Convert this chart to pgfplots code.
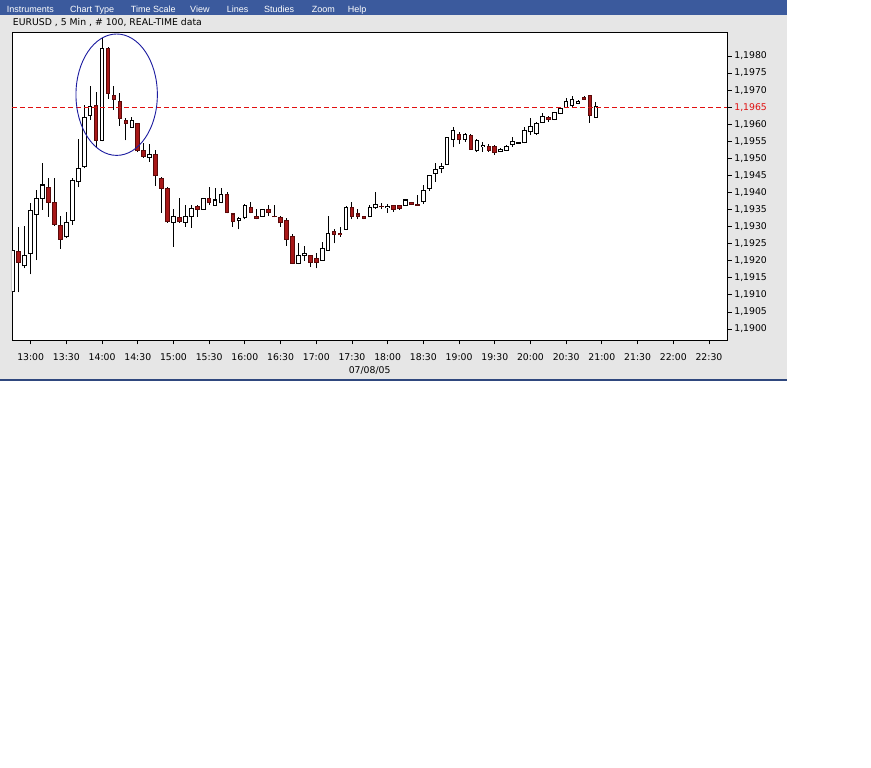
\documentclass[border=0pt]{standalone}
\usepackage{fontspec}
\setmainfont{DejaVu Sans}
\newfontfamily\menufont{Liberation Sans}
\usepackage{pgfplots}
\pgfplotsset{compat=1.18}
\usepackage{pgfplotstable}

\definecolor{menublue}{HTML}{3B5A9D}
\definecolor{panelgray}{HTML}{E6E6E6}
\definecolor{candlered}{HTML}{A81818}
\definecolor{candleedge}{HTML}{5A0A0A}
\definecolor{pricered}{RGB}{224,16,16}
\definecolor{circleblue}{HTML}{1C1CA0}

% EURUSD 5 min candles, t = number of 5-min bars after 13:00
% white (rising) candles
\pgfplotstableread{
t o h l c
-3 1.19109 1.19241 1.18982 1.19231
-1 1.19185 1.19302 1.19178 1.19214
0 1.19222 1.19368 1.19160 1.19348
1 1.19336 1.19407 1.19202 1.19383
2 1.19383 1.19487 1.19349 1.19422
6 1.19270 1.19344 1.19266 1.19313
7 1.19319 1.19443 1.19305 1.19434
8 1.19432 1.19557 1.19415 1.19471
9 1.19476 1.19656 1.19471 1.19620
10 1.19625 1.19712 1.19612 1.19651
12 1.19553 1.19852 1.19550 1.19823
17 1.19591 1.19620 1.19590 1.19612
20 1.19502 1.19541 1.19490 1.19512
24 1.19313 1.19352 1.19241 1.19329
26 1.19313 1.19363 1.19300 1.19331
27 1.19329 1.19363 1.19297 1.19352
29 1.19351 1.19385 1.19349 1.19383
31 1.19363 1.19412 1.19360 1.19378
32 1.19370 1.19412 1.19368 1.19393
35 1.19319 1.19329 1.19292 1.19324
36 1.19326 1.19365 1.19321 1.19363
39 1.19331 1.19353 1.19329 1.19351
45 1.19192 1.19251 1.19190 1.19214
46 1.19215 1.19243 1.19200 1.19222
49 1.19202 1.19256 1.19200 1.19236
50 1.19231 1.19331 1.19229 1.19280
53 1.19292 1.19360 1.19290 1.19357
57 1.19329 1.19363 1.19327 1.19357
58 1.19355 1.19402 1.19351 1.19365
60 1.19355 1.19365 1.19341 1.19359
63 1.19363 1.19380 1.19361 1.19378
66 1.19373 1.19422 1.19366 1.19407
67 1.19412 1.19451 1.19405 1.19449
68 1.19456 1.19486 1.19432 1.19468
69 1.19471 1.19486 1.19456 1.19476
70 1.19483 1.19564 1.19481 1.19562
71 1.19556 1.19591 1.19532 1.19581
73 1.19556 1.19575 1.19549 1.19571
75 1.19522 1.19556 1.19520 1.19551
76 1.19534 1.19549 1.19520 1.19539
79 1.19520 1.19530 1.19518 1.19527
80 1.19524 1.19539 1.19521 1.19536
81 1.19542 1.19562 1.19534 1.19549
82 1.19544 1.19549 1.19542 1.19546
83 1.19546 1.19593 1.19544 1.19583
84 1.19578 1.19617 1.19568 1.19593
85 1.19573 1.19607 1.19568 1.19603
86 1.19605 1.19632 1.19603 1.19622
88 1.19614 1.19637 1.19612 1.19634
89 1.19632 1.19649 1.19630 1.19647
90 1.19650 1.19676 1.19647 1.19666
91 1.19656 1.19683 1.19651 1.19673
92 1.19661 1.19670 1.19658 1.19668
95 1.19620 1.19666 1.19618 1.19653
}\upcandles

% red (falling) candles
\pgfplotstableread{
t o h l c
-2 1.19228 1.19298 1.19107 1.19195
3 1.19415 1.19443 1.19329 1.19371
4 1.19371 1.19443 1.19303 1.19307
5 1.19302 1.19331 1.19235 1.19263
11 1.19656 1.19694 1.19532 1.19553
13 1.19823 1.19827 1.19674 1.19691
14 1.19683 1.19712 1.19642 1.19673
15 1.19668 1.19691 1.19596 1.19617
16 1.19612 1.19617 1.19553 1.19603
18 1.19603 1.19605 1.19518 1.19522
19 1.19522 1.19544 1.19502 1.19505
21 1.19512 1.19524 1.19420 1.19449
22 1.19442 1.19444 1.19341 1.19412
23 1.19412 1.19415 1.19312 1.19314
25 1.19327 1.19383 1.19311 1.19314
28 1.19358 1.19363 1.19329 1.19351
30 1.19383 1.19415 1.19363 1.19370
33 1.19393 1.19401 1.19339 1.19341
34 1.19337 1.19340 1.19300 1.19314
37 1.19357 1.19373 1.19339 1.19341
38 1.19331 1.19351 1.19321 1.19324
40 1.19351 1.19363 1.19331 1.19342
41 1.19331 1.19363 1.19327 1.19329
42 1.19327 1.19331 1.19300 1.19311
43 1.19317 1.19324 1.19244 1.19263
44 1.19272 1.19277 1.19190 1.19192
47 1.19215 1.19218 1.19181 1.19195
48 1.19207 1.19222 1.19178 1.19195
51 1.19287 1.19292 1.19251 1.19277
52 1.19280 1.19300 1.19270 1.19276
54 1.19357 1.19373 1.19321 1.19329
55 1.19337 1.19351 1.19321 1.19329
56 1.19329 1.19331 1.19321 1.19324
59 1.19360 1.19368 1.19351 1.19358
61 1.19361 1.19363 1.19344 1.19351
62 1.19361 1.19363 1.19350 1.19353
64 1.19370 1.19373 1.19363 1.19365
65 1.19365 1.19393 1.19361 1.19363
72 1.19571 1.19578 1.19542 1.19554
74 1.19568 1.19570 1.19525 1.19527
77 1.19536 1.19542 1.19520 1.19524
78 1.19536 1.19539 1.19510 1.19517
87 1.19620 1.19625 1.19608 1.19614
93 1.19679 1.19683 1.19673 1.19673
94 1.19683 1.19683 1.19605 1.19627
}\downcandles

\pgfplotsset{
  candle/.style={draw=none, mark=none,
    error bars/.cd, y dir=plus, y explicit, error mark=none,
    error bar style={line cap=butt, #1}},
}

\begin{document}
\begin{tikzpicture}[x=1pt,y=1pt]
\fill[white] (0,0) rectangle (871,768);
\path[use as bounding box] (0,0) rectangle (871,768);
\fill[panelgray] (0,388.5) rectangle (787,753);
\fill[menublue] (0,753) rectangle (787,768);
\draw[menublue!80!black, line width=1.3pt] (0,388) -- (787,388);

\begin{axis}[
  at={(12pt,428pt)}, anchor=south west,
  width=715.3pt, height=307.3pt, scale only axis,
  xmin=-3.14, xmax=117.08, ymin=1.189678, ymax=1.198683,
  axis background/.style={fill=white},
  axis line style={black, line width=0.8pt},
  xtick={0,6,12,18,24,30,36,42,48,54,60,66,72,78,84,90,96,102,108,114},
  xticklabels={13:00,13:30,14:00,14:30,15:00,15:30,16:00,16:30,17:00,17:30,
    18:00,18:30,19:00,19:30,20:00,20:30,21:00,21:30,22:00,22:30},
  ytick={1.1900,1.1905,1.1910,1.1915,1.1920,1.1925,1.1930,1.1935,1.1940,
    1.1945,1.1950,1.1955,1.1960,1.1970,1.1975,1.1980},
  yticklabels={{1,1900},{1,1905},{1,1910},{1,1915},{1,1920},{1,1925},{1,1930},
    {1,1935},{1,1940},{1,1945},{1,1950},{1,1955},{1,1960},
    {1,1970},{1,1975},{1,1980}},
  extra y ticks={1.1965},
  extra y tick labels={1{,}1965},
  extra y tick style={yticklabel style={text=pricered}},
  xtick pos=left, ytick pos=right, yticklabel pos=right,
  tick align=outside, major tick length=4.5pt,
  tick style={black, line width=0.8pt},
  tick label style={font=\fontsize{9.3}{11}\selectfont},
  xticklabel style={yshift=-5.5pt},
  yticklabel style={xshift=-1pt},
  xlabel={07/08/05},
  every axis x label/.style={at={(axis description cs:0.5,0)}, anchor=base,
    yshift=-34pt, inner sep=0pt, font=\fontsize{9.3}{11}\selectfont},
]
% wicks
\addplot [candle={draw=black, line width=1pt}]
  table [x=t, y=l, y error expr=\thisrow{h}-\thisrow{l}] {\upcandles};
\addplot [candle={draw=black, line width=1pt}]
  table [x=t, y=l, y error expr=\thisrow{h}-\thisrow{l}] {\downcandles};
% white bodies: dark outline, white inside
\addplot [candle={draw=black, line width=4.6pt}]
  table [x=t, y expr=\thisrow{o}-0.000015,
    y error expr=\thisrow{c}-\thisrow{o}+0.00003] {\upcandles};
\addplot [candle={draw=white, line width=2.6pt}]
  table [x=t, y expr=\thisrow{o}+0.000015,
    y error expr={max(\thisrow{c}-\thisrow{o}-0.00003,0)}] {\upcandles};
% red bodies
\addplot [candle={draw=candleedge, line width=4.6pt}]
  table [x=t, y expr=\thisrow{c}-0.000015,
    y error expr=\thisrow{o}-\thisrow{c}+0.00003] {\downcandles};
\addplot [candle={draw=candlered, line width=2.6pt}]
  table [x=t, y expr=\thisrow{c}+0.000015,
    y error expr={max(\thisrow{o}-\thisrow{c}-0.00003,0)}] {\downcandles};
% last price line
\addplot [color=pricered, solid, mark=none, line width=1.2pt,
  dash pattern=on 5pt off 3pt]
  coordinates {(-3.14,1.1965) (117.08,1.1965)};
% highlight round the spike
\draw[circleblue, line width=0.9pt] (axis cs:14.45,1.196866)
  ellipse [x radius=40.7pt, y radius=60.7pt];
\end{axis}

\node[anchor=base west, inner sep=0pt, font=\fontsize{9.3}{11}\selectfont]
  at (12.7,742) {EURUSD , 5 Min , \# 100, REAL-TIME data};
\begin{scope}[every node/.style={anchor=base west, inner sep=0pt, text=white,
    font=\menufont\fontsize{9}{10}\selectfont}]
  \node at (6.7,755) {Instruments};
  \node at (70,755) {Chart Type};
  \node at (130.7,755) {Time Scale};
  \node at (190,755) {View};
  \node at (226.7,755) {Lines};
  \node at (264,755) {Studies};
  \node at (311.7,755) {Zoom};
  \node at (347.7,755) {Help};
\end{scope}
\end{tikzpicture}
\end{document}
